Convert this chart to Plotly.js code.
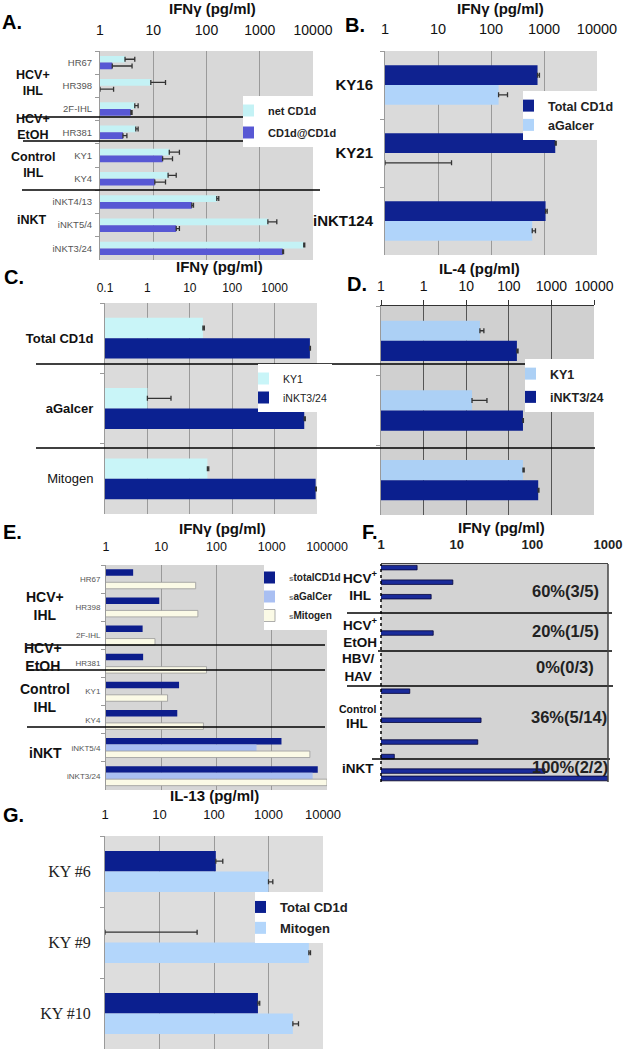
<!DOCTYPE html>
<html><head><meta charset="utf-8">
<script src="https://cdn.plot.ly/plotly-3.0.1.min.js"></script>
<style>html,body{margin:0;padding:0;background:#fff;}#chart{width:623px;height:1050px;}</style>
</head><body><div id="chart"></div>
<script>
// ---------------- DATA ----------------
// Panel A: IFNγ (pg/ml)
const aSamples   = ['HR67','HR398','2F-IHL','HR381','KY1','KY4','iNKT4/13','iNKT5/4','iNKT3/24'];
const aNetCD1d   = [2.95, 9.0, 4.5, 4.7, 20, 19, 156, 1420, 6700];
const aNetErr    = [1.55, 8, 0.7, 0.5, 11, 8, 14, 670, 300];
const aCD1dCD1d  = [1.7, 1.0, 3.8, 2.7, 15, 10.7, 53, 27, 2700];
const aCD1dErr   = [2.3, 0.8, 0.2, 0.5, 8, 6.3, 4, 4, 100];
const aTicks     = ['1','10','100','1000','10000'];
// Panel B: IFNγ (pg/ml)
const bSamples   = ['KY16','KY21','iNKT124'];
const bTotalCD1d = [755, 1630, 1070];
const bTotalErr  = [65, 70, 80];
const bAgalcer   = [139, 1.0, 600];
const bAgalErr   = [66, 17, 90];
// Panel C: IFNγ (pg/ml)
const cStimuli   = ['Total CD1d','aGalcer','Mitogen'];
const cKY1       = [20.4, 1.0, 26];
const cKY1Err    = [1.6, 2.6, 2];
const cINKT324   = [6800, 5000, 9300];
const cINKTErr   = [200, 300, 400];
const cTicks     = ['0.1','1','10','100','1000'];
// Panel D: IL-4 (pg/ml)
const dKY1       = [21, 13.7, 215];
const dKY1Err    = [5, 17, 15];
const dINKT324   = [155, 215, 490];
const dINKTErr   = [10, 5, 20];
const dTicks     = ['1','1','10','100','1000','10000'];
// Panel E: IFNγ (pg/ml)
const eSamples   = ['HR67','HR398','2F-IHL','HR381','KY1','KY4','iNKT5/4','iNKT3/24'];
const eTotalCD1d = [3.1, 9.2, 4.6, 4.7, 21, 19.5, 1500, 6800];
const eAGalCer   = [null, null, null, null, null, null, 530, 5500];
const eMitogen   = [42, 46, 7.7, 66, 13, 58, 4900, 10000];
const eTicks     = ['1','10','100','1000','100000'];
// Panel F: IFNγ (pg/ml), one row per sample (empty = no response)
const fIFNg      = [3.0, null, 8.9, null, 4.6, null, null,
                    null, null, 4.9, null, null,
                    null, null, null, null, null,
                    2.4, null, null, null, 21, null, null, 19, null, 1.5,
                    null, 147, 1000];
const fSamples   = fIFNg.map((v, i) => 'S' + (i + 1));
const fPercents  = ['60%(3/5)','20%(1/5)','0%(0/3)','36%(5/14)','100%(2/2)'];
const fTicks     = ['1','10','100','1000'];
// Panel G: IL-13 (pg/ml)
const gSamples   = ['KY #6','KY #9','KY #10'];
const gTotalCD1d = [108, 1.0, 640];
const gTotalErr  = [37, 48, 50];
const gMitogen   = [1000, 5500, 2800];
const gMitoErr   = [200, 400, 750];
const gTicks     = ['1','10','100','1000','10000'];

// ---------------- LAYOUT HELPERS ----------------
const W = 623, H = 1050;
const X = v => v / W, Y = v => 1 - v / H;
const FONT = 'Arial, "Liberation Sans", sans-serif';
const SERIF = '"Liberation Serif", "Times New Roman", serif';
const vals = t => t.map(s => parseFloat(s));
const errX = plus => ({type:'data', symmetric:false, array:plus, arrayminus:plus.map(() => 0),
  color:'#333', thickness:1.3, width:2.5});

function xax(l, r, range, ticks, tickvals, extra) {
  return Object.assign({domain:[X(l), X(r)], type:'log', range:range, side:'top',
    tickmode:'array', tickvals:tickvals, ticktext:ticks,
    showgrid:true, gridcolor:'#9a9a9a', gridwidth:1, zeroline:false, showline:false, ticks:'',
    tickfont:{family:FONT, size:14, color:'#111'}, fixedrange:true}, extra);
}
function yax(t, b, anchor, extra) {
  return Object.assign({domain:[Y(b), Y(t)], type:'category', autorange:'reversed', anchor:anchor,
    showgrid:false, zeroline:false, showline:true, linecolor:'#9a9a9a', linewidth:1,
    ticks:'outside', tickson:'boundaries', ticklen:4, tickcolor:'#9a9a9a',
    tickfont:{family:FONT, size:9.5, color:'#555'}, fixedrange:true}, extra);
}

// ---------------- TRACES ----------------
const traces = [
  // A
  {type:'bar', orientation:'h', y:aSamples, x:aNetCD1d, name:'net CD1d', xaxis:'x', yaxis:'y',
   marker:{color:'#c4f2f5'}, error_x:errX(aNetErr), legend:'legend', legendgroup:'a1'},
  {type:'bar', orientation:'h', y:aSamples, x:aCD1dCD1d, name:'CD1d@CD1d', xaxis:'x', yaxis:'y',
   marker:{color:'#5858d4'}, error_x:errX(aCD1dErr), legend:'legend', legendgroup:'a2'},
  // B
  {type:'bar', orientation:'h', y:bSamples, x:bTotalCD1d, name:'Total CD1d', xaxis:'x2', yaxis:'y2',
   marker:{color:'#0f2290'}, error_x:errX(bTotalErr), legend:'legend2'},
  {type:'bar', orientation:'h', y:bSamples, x:bAgalcer, name:'aGalcer', xaxis:'x2', yaxis:'y2',
   marker:{color:'#b0d4fa'}, error_x:errX(bAgalErr), legend:'legend2'},
  // C
  {type:'bar', orientation:'h', y:cStimuli, x:cKY1, name:'KY1', xaxis:'x3', yaxis:'y3',
   marker:{color:'#c9f5f8'}, error_x:errX(cKY1Err), legend:'legend3'},
  {type:'bar', orientation:'h', y:cStimuli, x:cINKT324, name:'iNKT3/24', xaxis:'x3', yaxis:'y3',
   marker:{color:'#0b2191'}, error_x:errX(cINKTErr), legend:'legend3'},
  // D
  {type:'bar', orientation:'h', y:cStimuli, x:dKY1, name:'KY1', xaxis:'x4', yaxis:'y4',
   marker:{color:'#acd0f5'}, error_x:errX(dKY1Err), legend:'legend4', legendgroup:'d1'},
  {type:'bar', orientation:'h', y:cStimuli, x:dINKT324, name:'iNKT3/24', xaxis:'x4', yaxis:'y4',
   marker:{color:'#0b1f8e'}, error_x:errX(dINKTErr), legend:'legend4', legendgroup:'d2'},
  // E
  {type:'bar', orientation:'h', y:eSamples, x:eTotalCD1d, name:'<span style="font-size:8px;color:#777">s</span>totalCD1d',
   xaxis:'x5', yaxis:'y5', width:0.23, offset:-0.345, marker:{color:'#0c1d8c'}, legend:'legend5'},
  {type:'bar', orientation:'h', y:eSamples, x:eAGalCer, name:'<span style="font-size:8px;color:#777">s</span>aGalCer',
   xaxis:'x5', yaxis:'y5', width:0.23, offset:-0.115, marker:{color:'#a9bff2'}, legend:'legend5'},
  {type:'bar', orientation:'h', y:eSamples, x:eMitogen, name:'<span style="font-size:8px;color:#777">s</span>Mitogen',
   xaxis:'x5', yaxis:'y5', width:0.23, offset:0.115, marker:{color:'#fbfae6', line:{color:'#999', width:0.8}}, legend:'legend5'},
  // F
  {type:'bar', orientation:'h', y:fSamples, x:fIFNg, name:'IFNγ', xaxis:'x6', yaxis:'y6', showlegend:false,
   width:0.62, marker:{color:'#1a2b9a', line:{color:'#06063a', width:0.8}}},
  // G
  {type:'bar', orientation:'h', y:gSamples, x:gTotalCD1d, name:'Total CD1d', xaxis:'x7', yaxis:'y7',
   marker:{color:'#0b1f8f'}, error_x:errX(gTotalErr), legend:'legend6', legendgroup:'g1'},
  {type:'bar', orientation:'h', y:gSamples, x:gMitogen, name:'Mitogen', xaxis:'x7', yaxis:'y7',
   marker:{color:'#b3d6fb'}, error_x:errX(gMitoErr), legend:'legend6', legendgroup:'g2'}
];

// ---------------- DECORATIONS ----------------
const bgs = [['x','y','#d8d8d8'],['x2','y2','#dadada'],['x3','y3','#dbdbdb'],['x4','y4','#d0d0d0'],
             ['x5','y5','#d6d6d6'],['x6','y6','#d3d3d3'],['x7','y7','#dddddd']];
const shapes = bgs.map(b => ({type:'rect', xref:b[0]+' domain', yref:b[1]+' domain', x0:0, x1:1, y0:0, y1:1,
  fillcolor:b[2], line:{width:0}, layer:'below'}));
const hline = (x0, y, x1, w) => ({type:'line', xref:'paper', yref:'paper', x0:X(x0), x1:X(x1), y0:Y(y), y1:Y(y),
  line:{color:'#000', width:w || 1.3}, layer:'above'});
[[22,117,251],[23,141,315],[22,190,320],
 [36,364,595],[36,448,595],
 [27,645,325],[27,670,325],[27,727,325],
 [347,613,612],[378,651,612],[347,686,613],[372,759,610]].forEach(s => shapes.push(hline(s[0], s[1], s[2])));
// F frame: dotted left axis and right border
shapes.push({type:'line', xref:'x6 domain', yref:'y6 domain', x0:0, x1:0, y0:0, y1:1, line:{color:'#000', width:1.5, dash:'dot'}, layer:'above'});
shapes.push({type:'line', xref:'x6 domain', yref:'y6 domain', x0:1, x1:1, y0:0, y1:1, line:{color:'#444', width:1.5}, layer:'above'});

const ann = [];
const txt = (t, x, y, size, opts) => ann.push(Object.assign({text:t, x:X(x), y:Y(y), xref:'paper', yref:'paper',
  xanchor:'center', yanchor:'middle', showarrow:false, font:{family:FONT, size:size, color:'#111'}}, opts));
// titles
txt('<b>IFNγ (pg/ml)</b>', 212, 8, 15);
txt('<b>IFNγ (pg/ml)</b>', 500, 8, 15);
txt('<b>IFNγ (pg/ml)</b>', 219, 267, 15);
txt('<b>IL-4 (pg/ml)</b>', 479, 268, 15);
txt('<b>IFNγ (pg/ml)</b>', 222, 528, 15);
txt('<b>IFNγ (pg/ml)</b>', 501, 527, 15);
txt('<b>IL-13 (pg/ml)</b>', 214, 795, 15);
// panel letters
[['A.',12,22],['B.',355,25],['C.',14,277],['D.',357,284],['E.',12,532],['F.',370,532],['G.',13,815]]
  .forEach(p => txt('<b>' + p[0] + '</b>', p[1], p[2], 20, {font:{family:FONT, size:20, color:'#000'}}));
// group labels A
txt('<b>HCV+<br>IHL</b>', 33, 83, 12.5);
txt('<b>HCV+<br>EtOH</b>', 33, 127, 12.5);
txt('<b>Control<br>IHL</b>', 33, 165, 12.5);
txt('<b>iNKT</b>', 32, 220, 12.5);
// group labels E
txt('<b>HCV+<br>IHL</b>', 45, 606, 14);
txt('<b>HCV+<br>EtOH</b>', 43, 657, 14);
txt('<b>Control<br>IHL</b>', 45, 698, 14);
txt('<b>iNKT</b>', 45, 753, 14);
// group labels F
txt('<b>HCV<sup>+</sup><br>IHL</b>', 360, 585, 13.5);
txt('<b>HCV<sup>+</sup><br>EtOH</b>', 360, 632, 13.5);
txt('<b>HBV/<br>HAV</b>', 358, 667, 13.5);
txt('<b>Control</b>', 357, 709, 10.5);
txt('<b>IHL</b>', 357, 723, 13.5);
txt('<b>iNKT</b>', 358, 768, 13.5);
// F percentages
[[565,591],[565,631],[565,667],[569,717],[570,767]].forEach((p, i) =>
  txt('<b>' + fPercents[i] + '</b>', p[0], p[1], 16.5, {font:{family:FONT, size:16.5, color:'#222'}}));

const leg = (x, y, size, bold, extra) => Object.assign({x:X(x), y:Y(y), xanchor:'left', yanchor:'top',
  bgcolor:'#ffffff', borderwidth:0, itemwidth:30, indentation:-15,
  font:{family:FONT, size:size, color:'#222', weight:bold ? 'bold' : 'normal'}}, extra);

const layout = {
  width:W, height:H, margin:{l:0, r:0, t:0, b:0}, paper_bgcolor:'#fff', plot_bgcolor:'rgba(0,0,0,0)',
  barmode:'group', bargap:0.42, bargroupgap:0, showlegend:true,
  xaxis:  xax(100, 313, [0,4], aTicks, vals(aTicks), {anchor:'y', ticklabelstandoff:12}),
  yaxis:  yax(51, 260, 'x', {ticklabelstandoff:5}),
  xaxis2: xax(385, 597, [0,4], aTicks, vals(aTicks), {anchor:'y2', ticklabelstandoff:13, tickfont:{family:FONT, size:14.5, color:'#111'}}),
  yaxis2: yax(51, 255, 'x2', {ticklabelstandoff:8, tickfont:{family:FONT, size:15, color:'#111', weight:'bold'}}),
  xaxis3: xax(105, 317, [-1,4], cTicks, vals(cTicks), {anchor:'y3', ticklabelstandoff:8, tickfont:{family:FONT, size:12, color:'#111'}}),
  yaxis3: yax(303, 514, 'x3', {ticklabelstandoff:8, tickfont:{family:FONT, size:13, color:'#111'},
           tickmode:'array', tickvals:cStimuli, ticktext:['<b>Total CD1d</b>','<b>aGalcer</b>','Mitogen']}),
  xaxis4: xax(381, 594, [-1,4], dTicks, [0.1,1,10,100,1000,10000], {anchor:'y4', showline:true, linecolor:'#333', linewidth:1.5,
           ticks:'outside', ticklen:5, tickcolor:'#333', gridcolor:'#555', ticklabelstandoff:3}),
  yaxis4: yax(306, 515, 'x4', {showticklabels:false}),
  xaxis5: xax(106, 327, [0,4], eTicks, [1,10,100,1000,10000], {anchor:'y5', ticklabelstandoff:11, tickfont:{family:FONT, size:12.5, color:'#111'}}),
  yaxis5: yax(565, 790, 'x5', {ticklabelstandoff:3, tickfont:{family:FONT, size:8, color:'#555'}}),
  xaxis6: xax(381, 608, [0,3], fTicks, vals(fTicks), {anchor:'y6', showgrid:false, showline:true, linecolor:'#444', linewidth:1.5,
           ticklabelstandoff:8, tickfont:{family:FONT, size:13, color:'#222', weight:'bold'}}),
  yaxis6: yax(564, 782, 'x6', {showticklabels:false, showline:false, ticks:''}),
  xaxis7: xax(105, 323, [0,4], gTicks, vals(gTicks), {anchor:'y7', ticklabelstandoff:13, tickfont:{family:FONT, size:13, color:'#111'}}),
  yaxis7: yax(836, 1049, 'x7', {ticklabelstandoff:10, tickfont:{family:SERIF, size:16, color:'#222'}}),
  legend:  leg(243, 96, 11, true, {tracegroupgap:3}),
  legend2: leg(523, 91, 12.5, true),
  legend3: leg(258, 364, 10.5, false),
  legend4: leg(525, 359, 12.5, true, {tracegroupgap:4}),
  legend5: leg(264, 563, 10, true),
  legend6: leg(255, 892, 13, true, {tracegroupgap:1}),
  shapes: shapes,
  annotations: ann
};

Plotly.newPlot('chart', traces, layout, {staticPlot:true, displayModeBar:false});
</script></body></html>
